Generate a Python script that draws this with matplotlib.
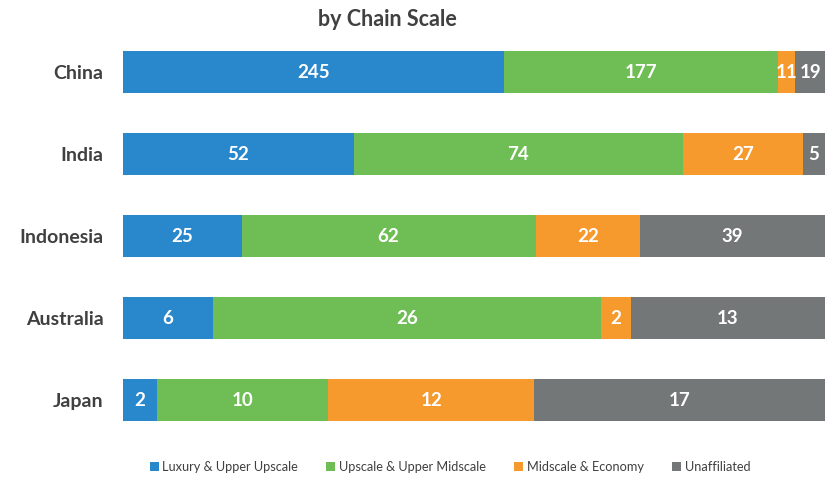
import matplotlib
matplotlib.use("Agg")
import matplotlib.pyplot as plt
import numpy as np

countries = ["China", "India", "Indonesia", "Australia", "Japan"]
series_names = ["Luxury & Upper Upscale", "Upscale & Upper Midscale",
                "Midscale & Economy", "Unaffiliated"]
luxury = [245, 52, 25, 6, 2]
upscale = [177, 74, 62, 26, 10]
midscale = [11, 27, 22, 2, 12]
unaffiliated = [19, 5, 39, 13, 17]
colors = ["#2988CC", "#6FBE55", "#F79A2E", "#737777"]

plt.rcParams['font.family'] = ['Lato', 'DejaVu Sans']

fig = plt.figure(figsize=(8.4, 4.94), dpi=100)
ax = fig.add_axes([123/840, 1-441/494, (825-123)/840, 410/494])

data = np.array([luxury, upscale, midscale, unaffiliated], dtype=float)
totals = data.sum(axis=0)
shares = data / totals
y = np.arange(len(countries))
left = np.zeros(len(countries))
for i, name in enumerate(series_names):
    ax.barh(y, shares[i], left=left, height=0.51, color=colors[i],
            label=name, edgecolor='none')
    for j in range(len(countries)):
        ax.text(left[j] + shares[i][j] / 2, y[j], str(int(data[i][j])),
                ha='center', va='center', color='white', fontsize=13.5,
                fontweight='bold')
    left += shares[i]

ax.set_xlim(0, 1)
ax.set_ylim(len(countries) - 0.5, -0.5)
ax.set_yticks(y)
ax.set_yticklabels(countries, fontsize=14, fontweight='bold', color='#404040')
ax.tick_params(axis='y', length=0, pad=14)
ax.set_xticks([])
for s in ax.spines.values():
    s.set_visible(False)

fig.text(387/840, 1-20/494, "by Chain Scale", ha='center', va='center',
         fontsize=15.5, fontweight='bold', color='#404040')

handles, labels = ax.get_legend_handles_labels()
fig.legend(handles, labels, loc='center', bbox_to_anchor=(450/840, 1-467/494),
           ncol=4, frameon=False, fontsize=9.2, handlelength=0.7,
           handleheight=0.7, handletextpad=0.3, columnspacing=2.2,
           labelcolor='#404040')

fig.savefig("out.png", dpi=100, facecolor='white')
